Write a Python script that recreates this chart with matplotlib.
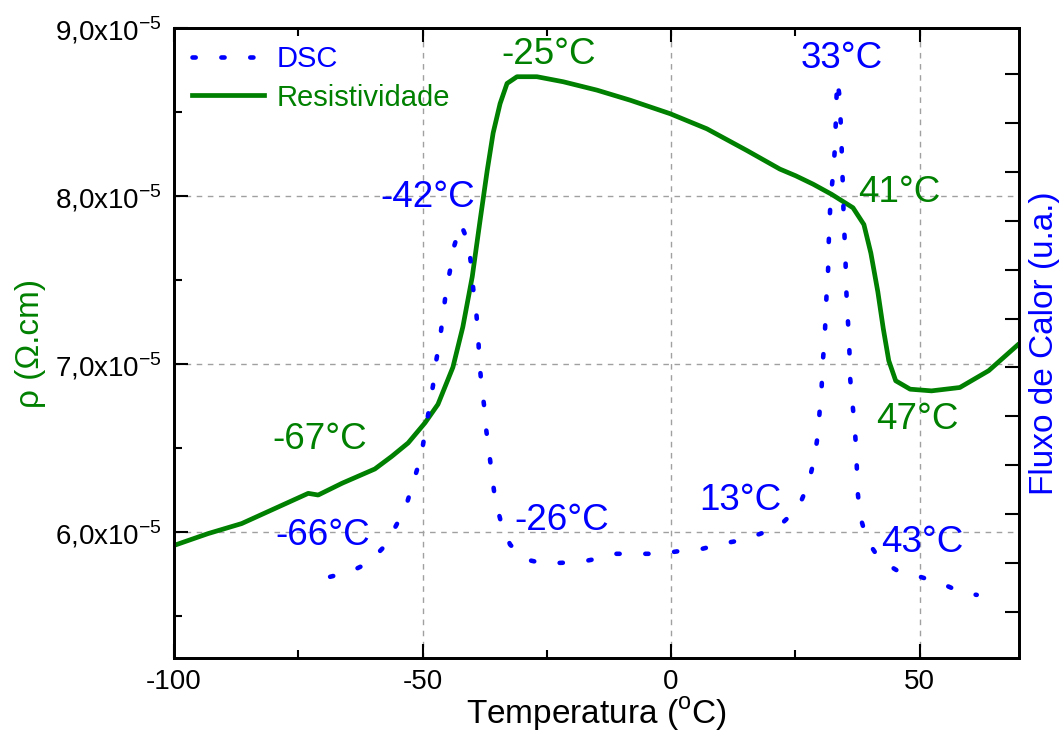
import numpy as np
import matplotlib
matplotlib.use("Agg")
import matplotlib.pyplot as plt
from matplotlib.lines import Line2D
from matplotlib.ticker import FixedLocator, FuncFormatter

plt.rcParams['font.family'] = ['Liberation Sans', 'DejaVu Sans']
plt.rcParams['axes.unicode_minus'] = False

GREEN = '#008000'
BLUE = '#0000ff'

# Resistivity (units of 1e-5 Ohm.cm) vs temperature
rho_T = [-100, -93.2, -86.4, -79.7, -73.0, -71.0, -66.2, -59.6, -56.2, -52.9,
         -49.5, -46.9, -43.9, -41.9, -40.0, -38.4, -37.0, -35.8, -34.4, -33.0,
         -31.0, -27.0, -21.7, -14.9, -8.2, -0.2, 7.2, 15.3, 21.9, 25.1,
         28.6, 32.3, 36.6, 38.8, 40.2, 41.6, 42.7, 43.8, 45.2, 48.1,
         52.4, 58.1, 63.9, 70.0]
rho = [5.92, 5.99, 6.05, 6.14, 6.23, 6.22, 6.29, 6.375, 6.45, 6.53,
       6.65, 6.76, 6.98, 7.22, 7.52, 7.86, 8.15, 8.375, 8.55, 8.67,
       8.71, 8.71, 8.68, 8.63, 8.57, 8.49, 8.40, 8.27, 8.16, 8.12,
       8.07, 8.01, 7.93, 7.83, 7.66, 7.43, 7.21, 7.02, 6.90, 6.85,
       6.84, 6.86, 6.96, 7.12]

# DSC heat flow (arbitrary units) vs temperature
dsc_T = [-68.6, -64.6, -60.8, -57.5, -55.1, -53.1, -51.7, -50.3, -49.5, -48.7,
         -47.9, -47.3, -46.5, -45.9, -45.3, -44.5, -43.7, -42.3, -40.8, -40.2,
         -39.8, -39.2, -38.8, -38.6, -38.2, -37.6, -37.2, -36.6, -36.0, -35.4,
         -34.2, -32.4, -29.5, -25.5, -21.1, -16.9, -12.9, -11.1, -6.4, -2.2,
         2.0, 6.2, 10.5, 14.7, 18.5, 22.3, 25.6, 27.6, 28.8, 29.6,
         29.9, 30.3, 30.5, 30.9, 31.1, 31.3, 31.6, 31.7, 31.9, 32.1,
         32.6, 32.9, 33.1, 33.4, 33.9, 34.1, 34.3, 34.4, 34.6, 34.7,
         34.9, 35.1, 35.2, 35.4, 35.7, 35.9, 36.0, 36.4, 36.9, 37.2,
         37.4, 37.6, 38.1, 39.5, 42.0, 45.6, 50.1, 54.5, 58.7, 61.5]
dsc = [0.72, 0.82, 1.01, 1.36, 1.81, 2.24, 2.71, 3.18, 3.67, 4.14,
       4.63, 5.11, 5.58, 6.05, 6.54, 6.97, 7.46, 7.93, 7.56, 7.07,
       6.60, 6.13, 5.64, 5.17, 4.70, 4.20, 3.73, 3.26, 2.77, 2.30,
       1.83, 1.38, 1.08, 0.99, 1.01, 1.05, 1.13, 1.19, 1.19, 1.19,
       1.25, 1.29, 1.40, 1.48, 1.62, 1.81, 2.13, 2.61, 3.12, 3.67,
       4.12, 4.61, 5.08, 5.58, 6.07, 6.52, 7.01, 7.50, 7.99, 8.47,
       8.94, 9.39, 9.88, 10.88, 10.55, 10.08, 9.59, 9.12, 8.67, 8.16,
       7.68, 7.19, 6.72, 6.25, 5.76, 5.29, 4.82, 4.35, 3.86, 3.38,
       2.89, 2.40, 1.93, 1.46, 1.07, 0.84, 0.72, 0.58, 0.39, 0.35]

# Transition temperature labels: (text, x, y) in resistivity axis coords
green_labels = [('-25°C', -24.7, 8.84), ('-67°C', -70.6, 6.55),
                ('41°C', 46.0, 8.02), ('47°C', 49.5, 6.67)]
blue_labels = [('33°C', 34.4, 8.82), ('-42°C', -48.9, 7.99),
               ('-66°C', -70.0, 5.98), ('-26°C', -21.9, 6.07),
               ('13°C', 13.9, 6.19), ('43°C', 50.5, 5.94)]

DOTTED = (0, (0.7, 5.6))


def sci_label(v, pos):
    return ('%.1f' % v).replace('.', ',') + 'x10$^{\\mathregular{-5}}$'


fig = plt.figure(figsize=(10.6, 7.31), dpi=100)
ax = fig.add_axes([0.1642, 0.0999, 0.7971, 0.8618])
ax2 = ax.twinx()

ax.plot(rho_T, rho, color=GREEN, lw=3.4, solid_capstyle='round', zorder=3)
ax2.plot(dsc_T, dsc, color=BLUE, lw=3.3, linestyle=DOTTED,
         dash_capstyle='round', zorder=3)

ax.set_xlim(-100, 70)
ax.set_ylim(5.25, 9.0)
ax2.set_ylim(-0.94, 11.94)

ax.xaxis.set_major_locator(FixedLocator([-100, -50, 0, 50]))
ax.xaxis.set_minor_locator(FixedLocator([-75, -25, 25]))
ax.yaxis.set_major_locator(FixedLocator([6, 7, 8, 9]))
ax.yaxis.set_minor_locator(FixedLocator([5.5, 6.5, 7.5, 8.5]))
ax.yaxis.set_major_formatter(FuncFormatter(sci_label))
ax2.yaxis.set_major_locator(FixedLocator(np.arange(0, 12)))
ax2.set_yticklabels([])

ax.tick_params(which='both', direction='in', top=True, right=False,
               labelsize=20, width=1.5, pad=9)
ax.tick_params(axis='x', pad=8)
ax.tick_params(which='major', length=10)
ax.tick_params(which='minor', length=6)
ax2.tick_params(which='both', direction='in', length=10, width=1.5)

for a in (ax, ax2):
    for s in a.spines.values():
        s.set_linewidth(2.0)

ax.grid(True, which='major', color='#a0a0a0', linestyle=(0, (4, 4)), lw=1.0)

ax.set_xlabel('Temperatura ($^{\\mathregular{o}}$C)', fontsize=24, labelpad=0)
ax.set_ylabel('ρ (Ω.cm)', fontsize=24, color=GREEN, labelpad=6)
ax2.set_ylabel('Fluxo de Calor (u.a.)', fontsize=24, color=BLUE, labelpad=4)

for txt, x, y in green_labels:
    ax.text(x, y, txt, color=GREEN, fontsize=26.5, ha='center', va='center', zorder=5)
for txt, x, y in blue_labels:
    ax.text(x, y, txt, color=BLUE, fontsize=26.5, ha='center', va='center', zorder=5)

handles = [Line2D([], [], color=BLUE, lw=3.3, linestyle=DOTTED,
                  dash_capstyle='round'),
           Line2D([], [], color=GREEN, lw=3.4)]
leg = ax2.legend(handles, ['DSC', 'Resistividade'], loc='upper left',
                 frameon=False, fontsize=21, handlelength=2.5,
                 handletextpad=0.4, labelspacing=0.35,
                 borderaxespad=0.3, borderpad=0.3,
                 labelcolor=[BLUE, GREEN])

fig.savefig('out.png', dpi=100)
